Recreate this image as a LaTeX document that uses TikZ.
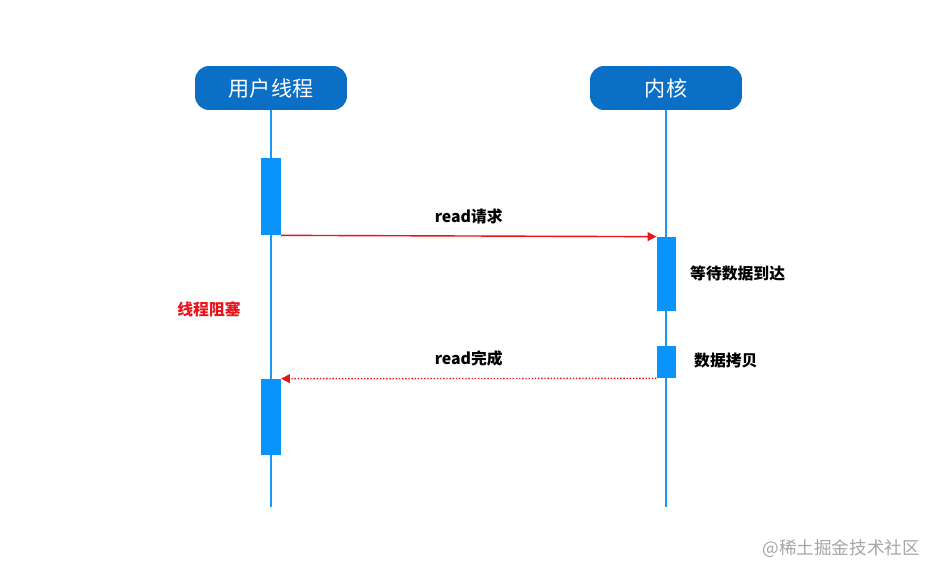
\documentclass[tikz,border=0pt]{standalone}
\usepackage{fontspec}
\setmainfont{Noto Sans CJK SC}
\usetikzlibrary{arrows.meta,positioning}
\definecolor{headblue}{HTML}{0B6FC6}
\definecolor{lifeblue}{HTML}{1A96F5}
\definecolor{barblue}{HTML}{0A93FB}
\definecolor{msgred}{HTML}{E8141B}
\tikzset{
  head/.style={draw=none,fill=headblue,rounded corners=8pt,minimum width=3.04cm,minimum height=0.88cm,text=white,font=\large},
  bar/.style={draw=none,fill=barblue,minimum width=0.39cm},
  life/.style={lifeblue,line width=1pt},
  msg/.style={msgred,line width=0.8pt,-{Triangle[length=5pt,width=5pt]}},
  note/.style={font=\small\bfseries}
}
\begin{document}
\begin{tikzpicture}[x=0.02cm,y=-0.02cm]
    \useasboundingbox[fill=white] (0,0) rectangle (943,578);
    % Heads
    \node[head] (User) at (271,88) {用户线程};
    \node[head] (Kern) at (666,88) {内核};
    % Lifelines
    \coordinate (UserEnd) at (271,507);
    \coordinate (KernEnd) at (666,507);
    \draw[life] (User) -- (UserEnd);
    \draw[life] (Kern) -- (KernEnd);
    % Bars
    \node[bar,minimum height=1.54cm] (UsBa1) at (271,196.5) {};
    \node[bar,minimum height=1.52cm] (UsBa2) at (271,417) {};
    \node[bar,minimum height=1.48cm] (KeBa1) at (666.5,274) {};
    \node[bar,minimum height=0.64cm] (KeBa2) at (666.5,362) {};
    % Messages
    \draw[msg] (UsBa1.south east) -- (KeBa1.north west) node[midway,above=3pt,black,note] {read请求};
    \draw[msg,densely dotted] (KeBa2.south west) -- (UsBa2.north east) node[midway,above=3pt,black,note] {read完成};
    % Labels
    \node[note,anchor=west] (Wait) at (684,273) {等待数据到达};
    \node[note,anchor=west] (Copy) at (688,361) {数据拷贝};
    \node[note,msgred] (Block) at (209,309) {线程阻塞};
    \node[gray!70,anchor=east] (Mark) at (926,549) {@稀土掘金技术社区};
\end{tikzpicture}
\end{document}
